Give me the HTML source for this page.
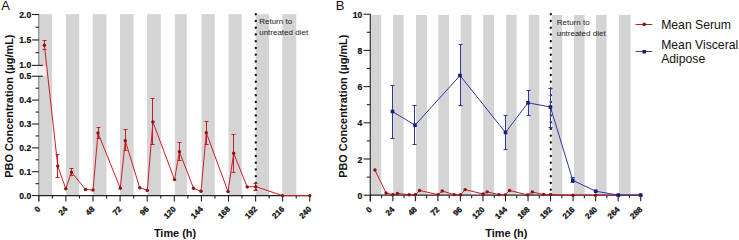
<!DOCTYPE html>
<html><head><meta charset="utf-8"><style>
html,body{margin:0;padding:0;background:#fff;width:739px;height:240px;overflow:hidden}
svg{display:block}
text{font-family:"Liberation Sans", sans-serif}
.tk{font-size:8px;font-weight:bold;fill:#111;stroke:#111;stroke-width:0.3px}
.tky{font-size:8.6px;font-weight:bold;fill:#111;stroke:#111;stroke-width:0.2px}
.ti{font-size:10.92px;font-weight:bold;fill:#111}
.an{font-size:8px;fill:#222}
.lg{font-size:12.2px;fill:#111}
.pl{font-size:13px;fill:#111}
</style></head><body>
<svg width="739" height="240" viewBox="0 0 739 240">
<rect x="39.40" y="14.2" width="12.80" height="181.00" fill="#d4d4d4"/>
<rect x="65.90" y="14.2" width="13.30" height="181.00" fill="#d4d4d4"/>
<rect x="92.80" y="14.2" width="13.60" height="181.00" fill="#d4d4d4"/>
<rect x="120.00" y="14.2" width="13.60" height="181.00" fill="#d4d4d4"/>
<rect x="147.10" y="14.2" width="13.70" height="181.00" fill="#d4d4d4"/>
<rect x="174.80" y="14.2" width="12.00" height="181.00" fill="#d4d4d4"/>
<rect x="201.50" y="14.2" width="13.20" height="181.00" fill="#d4d4d4"/>
<rect x="228.50" y="14.2" width="13.20" height="181.00" fill="#d4d4d4"/>
<rect x="255.70" y="14.2" width="13.30" height="181.00" fill="#d4d4d4"/>
<rect x="282.30" y="14.2" width="14.00" height="181.00" fill="#d4d4d4"/>
<rect x="371.00" y="14.9" width="10.20" height="179.90" fill="#d4d4d4"/>
<rect x="393.10" y="14.9" width="10.50" height="179.90" fill="#d4d4d4"/>
<rect x="416.00" y="14.9" width="10.90" height="179.90" fill="#d4d4d4"/>
<rect x="438.30" y="14.9" width="10.70" height="179.90" fill="#d4d4d4"/>
<rect x="460.80" y="14.9" width="10.70" height="179.90" fill="#d4d4d4"/>
<rect x="483.20" y="14.9" width="10.80" height="179.90" fill="#d4d4d4"/>
<rect x="506.20" y="14.9" width="10.40" height="179.90" fill="#d4d4d4"/>
<rect x="528.80" y="14.9" width="10.40" height="179.90" fill="#d4d4d4"/>
<rect x="552.00" y="14.9" width="10.20" height="179.90" fill="#d4d4d4"/>
<rect x="574.00" y="14.9" width="10.60" height="179.90" fill="#d4d4d4"/>
<rect x="595.90" y="14.9" width="10.70" height="179.90" fill="#d4d4d4"/>
<rect x="619.00" y="14.9" width="11.60" height="179.90" fill="#d4d4d4"/>
<rect x="37" y="66.1" width="9.5" height="9.8" fill="#efefef"/>
<line x1="38.8" y1="14" x2="38.8" y2="65.6" stroke="#888" stroke-width="1.3"/>
<line x1="38.8" y1="76" x2="38.8" y2="201.5" stroke="#888" stroke-width="1.3"/>
<line x1="38.3" y1="195.6" x2="310.3" y2="195.6" stroke="#222" stroke-width="1.2"/>
<line x1="32" y1="14.50" x2="38.9" y2="14.50" stroke="#222" stroke-width="1.1"/>
<text x="31.2" y="17.50" class="tky" text-anchor="end">2.0</text>
<line x1="32" y1="39.95" x2="38.9" y2="39.95" stroke="#222" stroke-width="1.1"/>
<text x="31.2" y="42.95" class="tky" text-anchor="end">1.5</text>
<line x1="32" y1="65.40" x2="42.8" y2="65.40" stroke="#222" stroke-width="1.1"/>
<text x="31.2" y="68.40" class="tky" text-anchor="end">1.0</text>
<line x1="32" y1="76.25" x2="42.8" y2="76.25" stroke="#222" stroke-width="1.1"/>
<text x="31.2" y="79.25" class="tky" text-anchor="end">0.5</text>
<line x1="32" y1="100.12" x2="38.9" y2="100.12" stroke="#222" stroke-width="1.1"/>
<text x="31.2" y="103.12" class="tky" text-anchor="end">0.4</text>
<line x1="32" y1="123.99" x2="38.9" y2="123.99" stroke="#222" stroke-width="1.1"/>
<text x="31.2" y="126.99" class="tky" text-anchor="end">0.3</text>
<line x1="32" y1="147.86" x2="38.9" y2="147.86" stroke="#222" stroke-width="1.1"/>
<text x="31.2" y="150.86" class="tky" text-anchor="end">0.2</text>
<line x1="32" y1="171.73" x2="38.9" y2="171.73" stroke="#222" stroke-width="1.1"/>
<text x="31.2" y="174.73" class="tky" text-anchor="end">0.1</text>
<line x1="32" y1="195.60" x2="38.9" y2="195.60" stroke="#222" stroke-width="1.1"/>
<text x="31.2" y="198.60" class="tky" text-anchor="end">0.0</text>
<line x1="35.5" y1="27.23" x2="38.9" y2="27.23" stroke="#222" stroke-width="1.1"/>
<line x1="35.5" y1="52.68" x2="38.9" y2="52.68" stroke="#222" stroke-width="1.1"/>
<line x1="35.5" y1="88.19" x2="38.9" y2="88.19" stroke="#222" stroke-width="1.1"/>
<line x1="35.5" y1="112.06" x2="38.9" y2="112.06" stroke="#222" stroke-width="1.1"/>
<line x1="35.5" y1="135.93" x2="38.9" y2="135.93" stroke="#222" stroke-width="1.1"/>
<line x1="35.5" y1="159.79" x2="38.9" y2="159.79" stroke="#222" stroke-width="1.1"/>
<line x1="35.5" y1="183.66" x2="38.9" y2="183.66" stroke="#222" stroke-width="1.1"/>
<line x1="38.80" y1="195.6" x2="38.80" y2="201.5" stroke="#222" stroke-width="1.1"/>
<text transform="translate(40.90,209.7) rotate(-45)" class="tk" text-anchor="end">0</text>
<line x1="65.90" y1="195.6" x2="65.90" y2="201.5" stroke="#222" stroke-width="1.1"/>
<text transform="translate(68.00,209.7) rotate(-45)" class="tk" text-anchor="end">24</text>
<line x1="93.00" y1="195.6" x2="93.00" y2="201.5" stroke="#222" stroke-width="1.1"/>
<text transform="translate(95.10,209.7) rotate(-45)" class="tk" text-anchor="end">48</text>
<line x1="120.10" y1="195.6" x2="120.10" y2="201.5" stroke="#222" stroke-width="1.1"/>
<text transform="translate(122.20,209.7) rotate(-45)" class="tk" text-anchor="end">72</text>
<line x1="147.20" y1="195.6" x2="147.20" y2="201.5" stroke="#222" stroke-width="1.1"/>
<text transform="translate(149.30,209.7) rotate(-45)" class="tk" text-anchor="end">96</text>
<line x1="174.30" y1="195.6" x2="174.30" y2="201.5" stroke="#222" stroke-width="1.1"/>
<text transform="translate(176.40,209.7) rotate(-45)" class="tk" text-anchor="end">120</text>
<line x1="201.40" y1="195.6" x2="201.40" y2="201.5" stroke="#222" stroke-width="1.1"/>
<text transform="translate(203.50,209.7) rotate(-45)" class="tk" text-anchor="end">144</text>
<line x1="228.50" y1="195.6" x2="228.50" y2="201.5" stroke="#222" stroke-width="1.1"/>
<text transform="translate(230.60,209.7) rotate(-45)" class="tk" text-anchor="end">168</text>
<line x1="255.60" y1="195.6" x2="255.60" y2="201.5" stroke="#222" stroke-width="1.1"/>
<text transform="translate(257.70,209.7) rotate(-45)" class="tk" text-anchor="end">192</text>
<line x1="282.70" y1="195.6" x2="282.70" y2="201.5" stroke="#222" stroke-width="1.1"/>
<text transform="translate(284.80,209.7) rotate(-45)" class="tk" text-anchor="end">216</text>
<line x1="309.80" y1="195.6" x2="309.80" y2="201.5" stroke="#222" stroke-width="1.1"/>
<text transform="translate(311.90,209.7) rotate(-45)" class="tk" text-anchor="end">240</text>
<line x1="52.35" y1="195.6" x2="52.35" y2="198.5" stroke="#222" stroke-width="1.1"/>
<line x1="79.45" y1="195.6" x2="79.45" y2="198.5" stroke="#222" stroke-width="1.1"/>
<line x1="106.55" y1="195.6" x2="106.55" y2="198.5" stroke="#222" stroke-width="1.1"/>
<line x1="133.65" y1="195.6" x2="133.65" y2="198.5" stroke="#222" stroke-width="1.1"/>
<line x1="160.75" y1="195.6" x2="160.75" y2="198.5" stroke="#222" stroke-width="1.1"/>
<line x1="187.85" y1="195.6" x2="187.85" y2="198.5" stroke="#222" stroke-width="1.1"/>
<line x1="214.95" y1="195.6" x2="214.95" y2="198.5" stroke="#222" stroke-width="1.1"/>
<line x1="242.05" y1="195.6" x2="242.05" y2="198.5" stroke="#222" stroke-width="1.1"/>
<line x1="269.15" y1="195.6" x2="269.15" y2="198.5" stroke="#222" stroke-width="1.1"/>
<line x1="296.25" y1="195.6" x2="296.25" y2="198.5" stroke="#222" stroke-width="1.1"/>
<line x1="370.3" y1="14.1" x2="370.3" y2="201.5" stroke="#333" stroke-width="1.2"/>
<line x1="369.8" y1="195.2" x2="641.2" y2="195.2" stroke="#222" stroke-width="1.2"/>
<line x1="363.6" y1="195.20" x2="370.3" y2="195.20" stroke="#222" stroke-width="1.1"/>
<text x="362.2" y="198.70" class="tky" text-anchor="end">0</text>
<line x1="363.6" y1="159.00" x2="370.3" y2="159.00" stroke="#222" stroke-width="1.1"/>
<text x="362.2" y="162.50" class="tky" text-anchor="end">2</text>
<line x1="363.6" y1="122.80" x2="370.3" y2="122.80" stroke="#222" stroke-width="1.1"/>
<text x="362.2" y="126.30" class="tky" text-anchor="end">4</text>
<line x1="363.6" y1="86.60" x2="370.3" y2="86.60" stroke="#222" stroke-width="1.1"/>
<text x="362.2" y="90.10" class="tky" text-anchor="end">6</text>
<line x1="363.6" y1="50.40" x2="370.3" y2="50.40" stroke="#222" stroke-width="1.1"/>
<text x="362.2" y="53.90" class="tky" text-anchor="end">8</text>
<line x1="363.6" y1="14.20" x2="370.3" y2="14.20" stroke="#222" stroke-width="1.1"/>
<text x="362.2" y="17.70" class="tky" text-anchor="end">10</text>
<line x1="366.8" y1="177.10" x2="370.3" y2="177.10" stroke="#222" stroke-width="1.1"/>
<line x1="366.8" y1="140.90" x2="370.3" y2="140.90" stroke="#222" stroke-width="1.1"/>
<line x1="366.8" y1="104.70" x2="370.3" y2="104.70" stroke="#222" stroke-width="1.1"/>
<line x1="366.8" y1="68.50" x2="370.3" y2="68.50" stroke="#222" stroke-width="1.1"/>
<line x1="366.8" y1="32.30" x2="370.3" y2="32.30" stroke="#222" stroke-width="1.1"/>
<line x1="370.30" y1="195.2" x2="370.30" y2="201.3" stroke="#222" stroke-width="1.1"/>
<text transform="translate(372.40,210.0) rotate(-45)" class="tk" text-anchor="end">0</text>
<line x1="392.83" y1="195.2" x2="392.83" y2="201.3" stroke="#222" stroke-width="1.1"/>
<text transform="translate(394.93,210.0) rotate(-45)" class="tk" text-anchor="end">24</text>
<line x1="415.37" y1="195.2" x2="415.37" y2="201.3" stroke="#222" stroke-width="1.1"/>
<text transform="translate(417.47,210.0) rotate(-45)" class="tk" text-anchor="end">48</text>
<line x1="437.90" y1="195.2" x2="437.90" y2="201.3" stroke="#222" stroke-width="1.1"/>
<text transform="translate(440.00,210.0) rotate(-45)" class="tk" text-anchor="end">72</text>
<line x1="460.43" y1="195.2" x2="460.43" y2="201.3" stroke="#222" stroke-width="1.1"/>
<text transform="translate(462.53,210.0) rotate(-45)" class="tk" text-anchor="end">96</text>
<line x1="482.97" y1="195.2" x2="482.97" y2="201.3" stroke="#222" stroke-width="1.1"/>
<text transform="translate(485.07,210.0) rotate(-45)" class="tk" text-anchor="end">120</text>
<line x1="505.50" y1="195.2" x2="505.50" y2="201.3" stroke="#222" stroke-width="1.1"/>
<text transform="translate(507.60,210.0) rotate(-45)" class="tk" text-anchor="end">144</text>
<line x1="528.03" y1="195.2" x2="528.03" y2="201.3" stroke="#222" stroke-width="1.1"/>
<text transform="translate(530.13,210.0) rotate(-45)" class="tk" text-anchor="end">168</text>
<line x1="550.57" y1="195.2" x2="550.57" y2="201.3" stroke="#222" stroke-width="1.1"/>
<text transform="translate(552.67,210.0) rotate(-45)" class="tk" text-anchor="end">192</text>
<line x1="573.10" y1="195.2" x2="573.10" y2="201.3" stroke="#222" stroke-width="1.1"/>
<text transform="translate(575.20,210.0) rotate(-45)" class="tk" text-anchor="end">216</text>
<line x1="595.63" y1="195.2" x2="595.63" y2="201.3" stroke="#222" stroke-width="1.1"/>
<text transform="translate(597.73,210.0) rotate(-45)" class="tk" text-anchor="end">240</text>
<line x1="618.17" y1="195.2" x2="618.17" y2="201.3" stroke="#222" stroke-width="1.1"/>
<text transform="translate(620.27,210.0) rotate(-45)" class="tk" text-anchor="end">264</text>
<line x1="640.70" y1="195.2" x2="640.70" y2="201.3" stroke="#222" stroke-width="1.1"/>
<text transform="translate(642.80,210.0) rotate(-45)" class="tk" text-anchor="end">288</text>
<line x1="381.57" y1="195.2" x2="381.57" y2="198.3" stroke="#222" stroke-width="1.1"/>
<line x1="404.10" y1="195.2" x2="404.10" y2="198.3" stroke="#222" stroke-width="1.1"/>
<line x1="426.63" y1="195.2" x2="426.63" y2="198.3" stroke="#222" stroke-width="1.1"/>
<line x1="449.17" y1="195.2" x2="449.17" y2="198.3" stroke="#222" stroke-width="1.1"/>
<line x1="471.70" y1="195.2" x2="471.70" y2="198.3" stroke="#222" stroke-width="1.1"/>
<line x1="494.23" y1="195.2" x2="494.23" y2="198.3" stroke="#222" stroke-width="1.1"/>
<line x1="516.77" y1="195.2" x2="516.77" y2="198.3" stroke="#222" stroke-width="1.1"/>
<line x1="539.30" y1="195.2" x2="539.30" y2="198.3" stroke="#222" stroke-width="1.1"/>
<line x1="561.83" y1="195.2" x2="561.83" y2="198.3" stroke="#222" stroke-width="1.1"/>
<line x1="584.37" y1="195.2" x2="584.37" y2="198.3" stroke="#222" stroke-width="1.1"/>
<line x1="606.90" y1="195.2" x2="606.90" y2="198.3" stroke="#222" stroke-width="1.1"/>
<line x1="629.43" y1="195.2" x2="629.43" y2="198.3" stroke="#222" stroke-width="1.1"/>
<circle cx="255.8" cy="14.25" r="1.15" fill="#111"/>
<circle cx="255.8" cy="21.00" r="1.15" fill="#111"/>
<circle cx="255.8" cy="27.75" r="1.15" fill="#111"/>
<circle cx="255.8" cy="34.50" r="1.15" fill="#111"/>
<circle cx="255.8" cy="41.25" r="1.15" fill="#111"/>
<circle cx="255.8" cy="48.00" r="1.15" fill="#111"/>
<circle cx="255.8" cy="54.75" r="1.15" fill="#111"/>
<circle cx="255.8" cy="61.50" r="1.15" fill="#111"/>
<circle cx="255.8" cy="68.25" r="1.15" fill="#111"/>
<circle cx="255.8" cy="75.00" r="1.15" fill="#111"/>
<circle cx="255.8" cy="81.75" r="1.15" fill="#111"/>
<circle cx="255.8" cy="88.50" r="1.15" fill="#111"/>
<circle cx="255.8" cy="95.25" r="1.15" fill="#111"/>
<circle cx="255.8" cy="102.00" r="1.15" fill="#111"/>
<circle cx="255.8" cy="108.75" r="1.15" fill="#111"/>
<circle cx="255.8" cy="115.50" r="1.15" fill="#111"/>
<circle cx="255.8" cy="122.25" r="1.15" fill="#111"/>
<circle cx="255.8" cy="129.00" r="1.15" fill="#111"/>
<circle cx="255.8" cy="135.75" r="1.15" fill="#111"/>
<circle cx="255.8" cy="142.50" r="1.15" fill="#111"/>
<circle cx="255.8" cy="149.25" r="1.15" fill="#111"/>
<circle cx="255.8" cy="156.00" r="1.15" fill="#111"/>
<circle cx="255.8" cy="162.75" r="1.15" fill="#111"/>
<circle cx="255.8" cy="169.50" r="1.15" fill="#111"/>
<circle cx="255.8" cy="176.25" r="1.15" fill="#111"/>
<circle cx="255.8" cy="183.00" r="1.15" fill="#111"/>
<circle cx="255.8" cy="189.75" r="1.15" fill="#111"/>
<circle cx="550.8" cy="14.25" r="1.15" fill="#111"/>
<circle cx="550.8" cy="21.00" r="1.15" fill="#111"/>
<circle cx="550.8" cy="27.75" r="1.15" fill="#111"/>
<circle cx="550.8" cy="34.50" r="1.15" fill="#111"/>
<circle cx="550.8" cy="41.25" r="1.15" fill="#111"/>
<circle cx="550.8" cy="48.00" r="1.15" fill="#111"/>
<circle cx="550.8" cy="54.75" r="1.15" fill="#111"/>
<circle cx="550.8" cy="61.50" r="1.15" fill="#111"/>
<circle cx="550.8" cy="68.25" r="1.15" fill="#111"/>
<circle cx="550.8" cy="75.00" r="1.15" fill="#111"/>
<circle cx="550.8" cy="81.75" r="1.15" fill="#111"/>
<circle cx="550.8" cy="88.50" r="1.15" fill="#111"/>
<circle cx="550.8" cy="95.25" r="1.15" fill="#111"/>
<circle cx="550.8" cy="102.00" r="1.15" fill="#111"/>
<circle cx="550.8" cy="108.75" r="1.15" fill="#111"/>
<circle cx="550.8" cy="115.50" r="1.15" fill="#111"/>
<circle cx="550.8" cy="122.25" r="1.15" fill="#111"/>
<circle cx="550.8" cy="129.00" r="1.15" fill="#111"/>
<circle cx="550.8" cy="135.75" r="1.15" fill="#111"/>
<circle cx="550.8" cy="142.50" r="1.15" fill="#111"/>
<circle cx="550.8" cy="149.25" r="1.15" fill="#111"/>
<circle cx="550.8" cy="156.00" r="1.15" fill="#111"/>
<circle cx="550.8" cy="162.75" r="1.15" fill="#111"/>
<circle cx="550.8" cy="169.50" r="1.15" fill="#111"/>
<circle cx="550.8" cy="176.25" r="1.15" fill="#111"/>
<circle cx="550.8" cy="183.00" r="1.15" fill="#111"/>
<circle cx="550.8" cy="189.75" r="1.15" fill="#111"/>
<text x="259.2" y="24.3" class="an">Return to</text>
<text x="259.2" y="34.7" class="an">untreated diet</text>
<text x="556.7" y="25.3" class="an">Return to</text>
<text x="556.7" y="35.9" class="an">untreated diet</text>
<line x1="44.5" y1="40.5" x2="44.5" y2="49.5" stroke="#cc1d22" stroke-width="1"/>
<line x1="42.5" y1="40.5" x2="46.5" y2="40.5" stroke="#cc1d22" stroke-width="1"/>
<line x1="42.5" y1="49.5" x2="46.5" y2="49.5" stroke="#cc1d22" stroke-width="1"/>
<line x1="57.5" y1="154.5" x2="57.5" y2="177.5" stroke="#cc1d22" stroke-width="1"/>
<line x1="55.5" y1="154.5" x2="59.5" y2="154.5" stroke="#cc1d22" stroke-width="1"/>
<line x1="55.5" y1="177.5" x2="59.5" y2="177.5" stroke="#cc1d22" stroke-width="1"/>
<line x1="71.5" y1="168.5" x2="71.5" y2="175.5" stroke="#cc1d22" stroke-width="1"/>
<line x1="69.5" y1="168.5" x2="73.5" y2="168.5" stroke="#cc1d22" stroke-width="1"/>
<line x1="69.5" y1="175.5" x2="73.5" y2="175.5" stroke="#cc1d22" stroke-width="1"/>
<line x1="98.5" y1="127.5" x2="98.5" y2="138.5" stroke="#cc1d22" stroke-width="1"/>
<line x1="96.5" y1="127.5" x2="100.5" y2="127.5" stroke="#cc1d22" stroke-width="1"/>
<line x1="96.5" y1="138.5" x2="100.5" y2="138.5" stroke="#cc1d22" stroke-width="1"/>
<line x1="125.5" y1="129.5" x2="125.5" y2="150.5" stroke="#cc1d22" stroke-width="1"/>
<line x1="123.5" y1="129.5" x2="127.5" y2="129.5" stroke="#cc1d22" stroke-width="1"/>
<line x1="123.5" y1="150.5" x2="127.5" y2="150.5" stroke="#cc1d22" stroke-width="1"/>
<line x1="152.5" y1="98.5" x2="152.5" y2="144.5" stroke="#cc1d22" stroke-width="1"/>
<line x1="150.5" y1="98.5" x2="154.5" y2="98.5" stroke="#cc1d22" stroke-width="1"/>
<line x1="150.5" y1="144.5" x2="154.5" y2="144.5" stroke="#cc1d22" stroke-width="1"/>
<line x1="179.5" y1="142.5" x2="179.5" y2="160.5" stroke="#cc1d22" stroke-width="1"/>
<line x1="177.5" y1="142.5" x2="181.5" y2="142.5" stroke="#cc1d22" stroke-width="1"/>
<line x1="177.5" y1="160.5" x2="181.5" y2="160.5" stroke="#cc1d22" stroke-width="1"/>
<line x1="206.5" y1="121.5" x2="206.5" y2="144.5" stroke="#cc1d22" stroke-width="1"/>
<line x1="204.5" y1="121.5" x2="208.5" y2="121.5" stroke="#cc1d22" stroke-width="1"/>
<line x1="204.5" y1="144.5" x2="208.5" y2="144.5" stroke="#cc1d22" stroke-width="1"/>
<line x1="233.5" y1="134.5" x2="233.5" y2="172.5" stroke="#cc1d22" stroke-width="1"/>
<line x1="231.5" y1="134.5" x2="235.5" y2="134.5" stroke="#cc1d22" stroke-width="1"/>
<line x1="231.5" y1="172.5" x2="235.5" y2="172.5" stroke="#cc1d22" stroke-width="1"/>
<line x1="255.5" y1="183.5" x2="255.5" y2="190.5" stroke="#cc1d22" stroke-width="1"/>
<line x1="253.5" y1="183.5" x2="257.5" y2="183.5" stroke="#cc1d22" stroke-width="1"/>
<line x1="253.5" y1="190.5" x2="257.5" y2="190.5" stroke="#cc1d22" stroke-width="1"/>
<polyline points="44.4,45.3 57.75,166 65.8,188.8 71.5,172.1 85.5,189.5 93,190 98,133 120.3,188.3 125.3,140.8 139.7,187.7 147.3,190.4 152.9,122 174.5,179.6 179.4,151.7 193.5,188.3 201,191.3 206.3,132.8 228,191.5 233.7,153.3 247.2,186.9 255.75,186.6 282.5,195.6 309.8,195.6" fill="none" stroke="#cc1d22" stroke-width="1"/>
<circle cx="44.4" cy="45.3" r="1.7" fill="#8c1015"/>
<circle cx="57.75" cy="166" r="1.7" fill="#8c1015"/>
<circle cx="65.8" cy="188.8" r="1.7" fill="#8c1015"/>
<circle cx="71.5" cy="172.1" r="1.7" fill="#8c1015"/>
<circle cx="85.5" cy="189.5" r="1.7" fill="#8c1015"/>
<circle cx="93" cy="190" r="1.7" fill="#8c1015"/>
<circle cx="98" cy="133" r="1.7" fill="#8c1015"/>
<circle cx="120.3" cy="188.3" r="1.7" fill="#8c1015"/>
<circle cx="125.3" cy="140.8" r="1.7" fill="#8c1015"/>
<circle cx="139.7" cy="187.7" r="1.7" fill="#8c1015"/>
<circle cx="147.3" cy="190.4" r="1.7" fill="#8c1015"/>
<circle cx="152.9" cy="122" r="1.7" fill="#8c1015"/>
<circle cx="174.5" cy="179.6" r="1.7" fill="#8c1015"/>
<circle cx="179.4" cy="151.7" r="1.7" fill="#8c1015"/>
<circle cx="193.5" cy="188.3" r="1.7" fill="#8c1015"/>
<circle cx="201" cy="191.3" r="1.7" fill="#8c1015"/>
<circle cx="206.3" cy="132.8" r="1.7" fill="#8c1015"/>
<circle cx="228" cy="191.5" r="1.7" fill="#8c1015"/>
<circle cx="233.7" cy="153.3" r="1.7" fill="#8c1015"/>
<circle cx="247.2" cy="186.9" r="1.7" fill="#8c1015"/>
<circle cx="255.75" cy="186.6" r="1.7" fill="#8c1015"/>
<circle cx="282.5" cy="195.6" r="1.7" fill="#8c1015"/>
<circle cx="309.8" cy="195.6" r="1.7" fill="#8c1015"/>
<polyline points="374.96,169.95 386.06,192.96 392.75,194.68 397.49,193.42 409.13,194.74 415.37,194.78 419.52,190.45 438.07,194.65 442.22,191.04 454.20,194.60 460.52,194.81 465.17,189.62 483.13,193.99 487.21,191.87 498.93,194.65 505.17,194.87 509.57,190.44 527.62,194.89 532.36,191.99 543.58,194.54 550.69,194.52 572.93,195.20 595.63,195.20 618.17,195.20 640.70,195.20" fill="none" stroke="#cc1d22" stroke-width="1"/>
<circle cx="374.96" cy="169.95" r="1.7" fill="#8c1015"/>
<circle cx="386.06" cy="192.96" r="1.7" fill="#8c1015"/>
<circle cx="392.75" cy="194.68" r="1.7" fill="#8c1015"/>
<circle cx="397.49" cy="193.42" r="1.7" fill="#8c1015"/>
<circle cx="409.13" cy="194.74" r="1.7" fill="#8c1015"/>
<circle cx="415.37" cy="194.78" r="1.7" fill="#8c1015"/>
<circle cx="419.52" cy="190.45" r="1.7" fill="#8c1015"/>
<circle cx="438.07" cy="194.65" r="1.7" fill="#8c1015"/>
<circle cx="442.22" cy="191.04" r="1.7" fill="#8c1015"/>
<circle cx="454.20" cy="194.60" r="1.7" fill="#8c1015"/>
<circle cx="460.52" cy="194.81" r="1.7" fill="#8c1015"/>
<circle cx="465.17" cy="189.62" r="1.7" fill="#8c1015"/>
<circle cx="483.13" cy="193.99" r="1.7" fill="#8c1015"/>
<circle cx="487.21" cy="191.87" r="1.7" fill="#8c1015"/>
<circle cx="498.93" cy="194.65" r="1.7" fill="#8c1015"/>
<circle cx="505.17" cy="194.87" r="1.7" fill="#8c1015"/>
<circle cx="509.57" cy="190.44" r="1.7" fill="#8c1015"/>
<circle cx="527.62" cy="194.89" r="1.7" fill="#8c1015"/>
<circle cx="532.36" cy="191.99" r="1.7" fill="#8c1015"/>
<circle cx="543.58" cy="194.54" r="1.7" fill="#8c1015"/>
<circle cx="550.69" cy="194.52" r="1.7" fill="#8c1015"/>
<circle cx="572.93" cy="195.20" r="1.7" fill="#8c1015"/>
<circle cx="595.63" cy="195.20" r="1.7" fill="#8c1015"/>
<circle cx="618.17" cy="195.20" r="1.7" fill="#8c1015"/>
<circle cx="640.70" cy="195.20" r="1.7" fill="#8c1015"/>
<line x1="392.5" y1="85.5" x2="392.5" y2="138.5" stroke="#2c3aa0" stroke-width="1"/>
<line x1="390.5" y1="85.5" x2="394.5" y2="85.5" stroke="#2c3aa0" stroke-width="1"/>
<line x1="390.5" y1="138.5" x2="394.5" y2="138.5" stroke="#2c3aa0" stroke-width="1"/>
<line x1="414.5" y1="105.5" x2="414.5" y2="144.5" stroke="#2c3aa0" stroke-width="1"/>
<line x1="412.5" y1="105.5" x2="416.5" y2="105.5" stroke="#2c3aa0" stroke-width="1"/>
<line x1="412.5" y1="144.5" x2="416.5" y2="144.5" stroke="#2c3aa0" stroke-width="1"/>
<line x1="460.5" y1="44.5" x2="460.5" y2="105.5" stroke="#2c3aa0" stroke-width="1"/>
<line x1="458.5" y1="44.5" x2="462.5" y2="44.5" stroke="#2c3aa0" stroke-width="1"/>
<line x1="458.5" y1="105.5" x2="462.5" y2="105.5" stroke="#2c3aa0" stroke-width="1"/>
<line x1="505.5" y1="115.5" x2="505.5" y2="149.5" stroke="#2c3aa0" stroke-width="1"/>
<line x1="503.5" y1="115.5" x2="507.5" y2="115.5" stroke="#2c3aa0" stroke-width="1"/>
<line x1="503.5" y1="149.5" x2="507.5" y2="149.5" stroke="#2c3aa0" stroke-width="1"/>
<line x1="528.5" y1="90.5" x2="528.5" y2="115.5" stroke="#2c3aa0" stroke-width="1"/>
<line x1="526.5" y1="90.5" x2="530.5" y2="90.5" stroke="#2c3aa0" stroke-width="1"/>
<line x1="526.5" y1="115.5" x2="530.5" y2="115.5" stroke="#2c3aa0" stroke-width="1"/>
<line x1="550.5" y1="88.5" x2="550.5" y2="127.5" stroke="#2c3aa0" stroke-width="1"/>
<line x1="548.5" y1="88.5" x2="552.5" y2="88.5" stroke="#2c3aa0" stroke-width="1"/>
<line x1="548.5" y1="127.5" x2="552.5" y2="127.5" stroke="#2c3aa0" stroke-width="1"/>
<line x1="572.5" y1="177.5" x2="572.5" y2="182.5" stroke="#2c3aa0" stroke-width="1"/>
<line x1="570.5" y1="177.5" x2="574.5" y2="177.5" stroke="#2c3aa0" stroke-width="1"/>
<line x1="570.5" y1="182.5" x2="574.5" y2="182.5" stroke="#2c3aa0" stroke-width="1"/>
<polyline points="392.5,111.5 415,125.2 460,75.5 505.5,132.5 528,102.8 550.4,107 572.8,180.3 595.7,191.2 618.3,195.1 640.7,195.1" fill="none" stroke="#2c3aa0" stroke-width="1"/>
<rect x="390.7" y="109.7" width="3.6" height="3.6" fill="#161e78"/>
<rect x="413.2" y="123.4" width="3.6" height="3.6" fill="#161e78"/>
<rect x="458.2" y="73.7" width="3.6" height="3.6" fill="#161e78"/>
<rect x="503.7" y="130.7" width="3.6" height="3.6" fill="#161e78"/>
<rect x="526.2" y="101.0" width="3.6" height="3.6" fill="#161e78"/>
<rect x="548.6" y="105.2" width="3.6" height="3.6" fill="#161e78"/>
<rect x="571.0" y="178.5" width="3.6" height="3.6" fill="#161e78"/>
<rect x="593.9000000000001" y="189.39999999999998" width="3.6" height="3.6" fill="#161e78"/>
<rect x="616.5" y="193.29999999999998" width="3.6" height="3.6" fill="#161e78"/>
<rect x="638.9000000000001" y="193.29999999999998" width="3.6" height="3.6" fill="#161e78"/>
<text x="1.2" y="10.4" class="pl">A</text>
<text x="335.7" y="10.4" class="pl">B</text>
<text transform="translate(12.85,106.1) rotate(-90)" class="ti" text-anchor="middle">PBO Concentration (µg/mL)</text>
<text transform="translate(346.95,106.2) rotate(-90)" class="ti" text-anchor="middle">PBO Concentration (µg/mL)</text>
<text x="175" y="236.7" class="ti" text-anchor="middle">Time (h)</text>
<text x="506.3" y="236.7" class="ti" text-anchor="middle">Time (h)</text>
<line x1="635.5" y1="24.5" x2="652.3" y2="24.5" stroke="#a8262a" stroke-width="1"/>
<circle cx="644.25" cy="24.4" r="1.8" fill="#8c1015"/>
<text x="661.2" y="28.5" class="lg">Mean Serum</text>
<line x1="635.5" y1="51.5" x2="652.3" y2="51.5" stroke="#3a4288" stroke-width="1"/>
<rect x="642.5" y="50" width="3.5" height="3.5" fill="#161e78"/>
<text x="661.2" y="49.3" class="lg">Mean Visceral</text>
<text x="661.2" y="62.6" class="lg">Adipose</text>
</svg>
</body></html>
